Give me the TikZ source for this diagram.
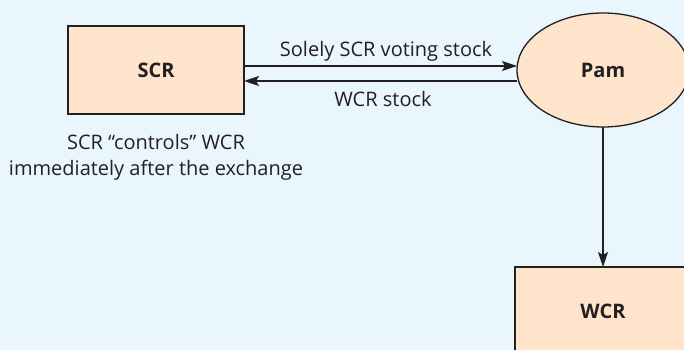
\documentclass[tikz,border=0pt]{standalone}
\usepackage{fontspec}
\setmainfont{Open Sans}
\usetikzlibrary{arrows.meta,shapes.geometric}
\definecolor{bg}{HTML}{E9F6FD}
\definecolor{peach}{HTML}{FEE4CB}
\definecolor{ink}{HTML}{231F20}
\begin{document}
\begin{tikzpicture}[x=1pt,y=-1pt,
  every node/.style={inner sep=0pt,outer sep=0pt,text=ink},
  boxnode/.style={draw=ink,line width=1.3pt,fill=peach,minimum width=176pt,minimum height=88pt,font=\fontsize{20}{24}\selectfont\bfseries},
  ellnode/.style={ellipse,draw=ink,line width=1.3pt,fill=peach,minimum width=172pt,minimum height=114pt,font=\fontsize{20}{24}\selectfont\bfseries},
  lbl/.style={font=\fontsize{20}{24}\selectfont},
  conn/.style={draw=ink,line width=1.4pt,-{Stealth[length=15pt,width=10pt,inset=3pt]}}]
\fill[bg] (0,0) rectangle (684,350);
\useasboundingbox (0,0) rectangle (684,350);
\node[boxnode] (scr) at (156,70) {SCR};
\node[ellnode] (pam) at (603,70) {Pam};
\node[boxnode] (wcr) at (603,311) {WCR};
\path[conn] (scr.east |- 0,66) -- (pam.west |- 0,66);
\path[conn] (pam.west |- 0,81) -- (scr.east |- 0,81);
\path[conn] (pam.south) -- (wcr.north);
\node[lbl] (l1) at (386,51) {Solely SCR voting stock};
\node[lbl] (l2) at (383,99) {WCR stock};
\node[lbl,align=center,font=\fontsize{20}{26}\selectfont] (cap) at (156,157) {SCR “controls” WCR\\immediately after the exchange};
\end{tikzpicture}
\end{document}
